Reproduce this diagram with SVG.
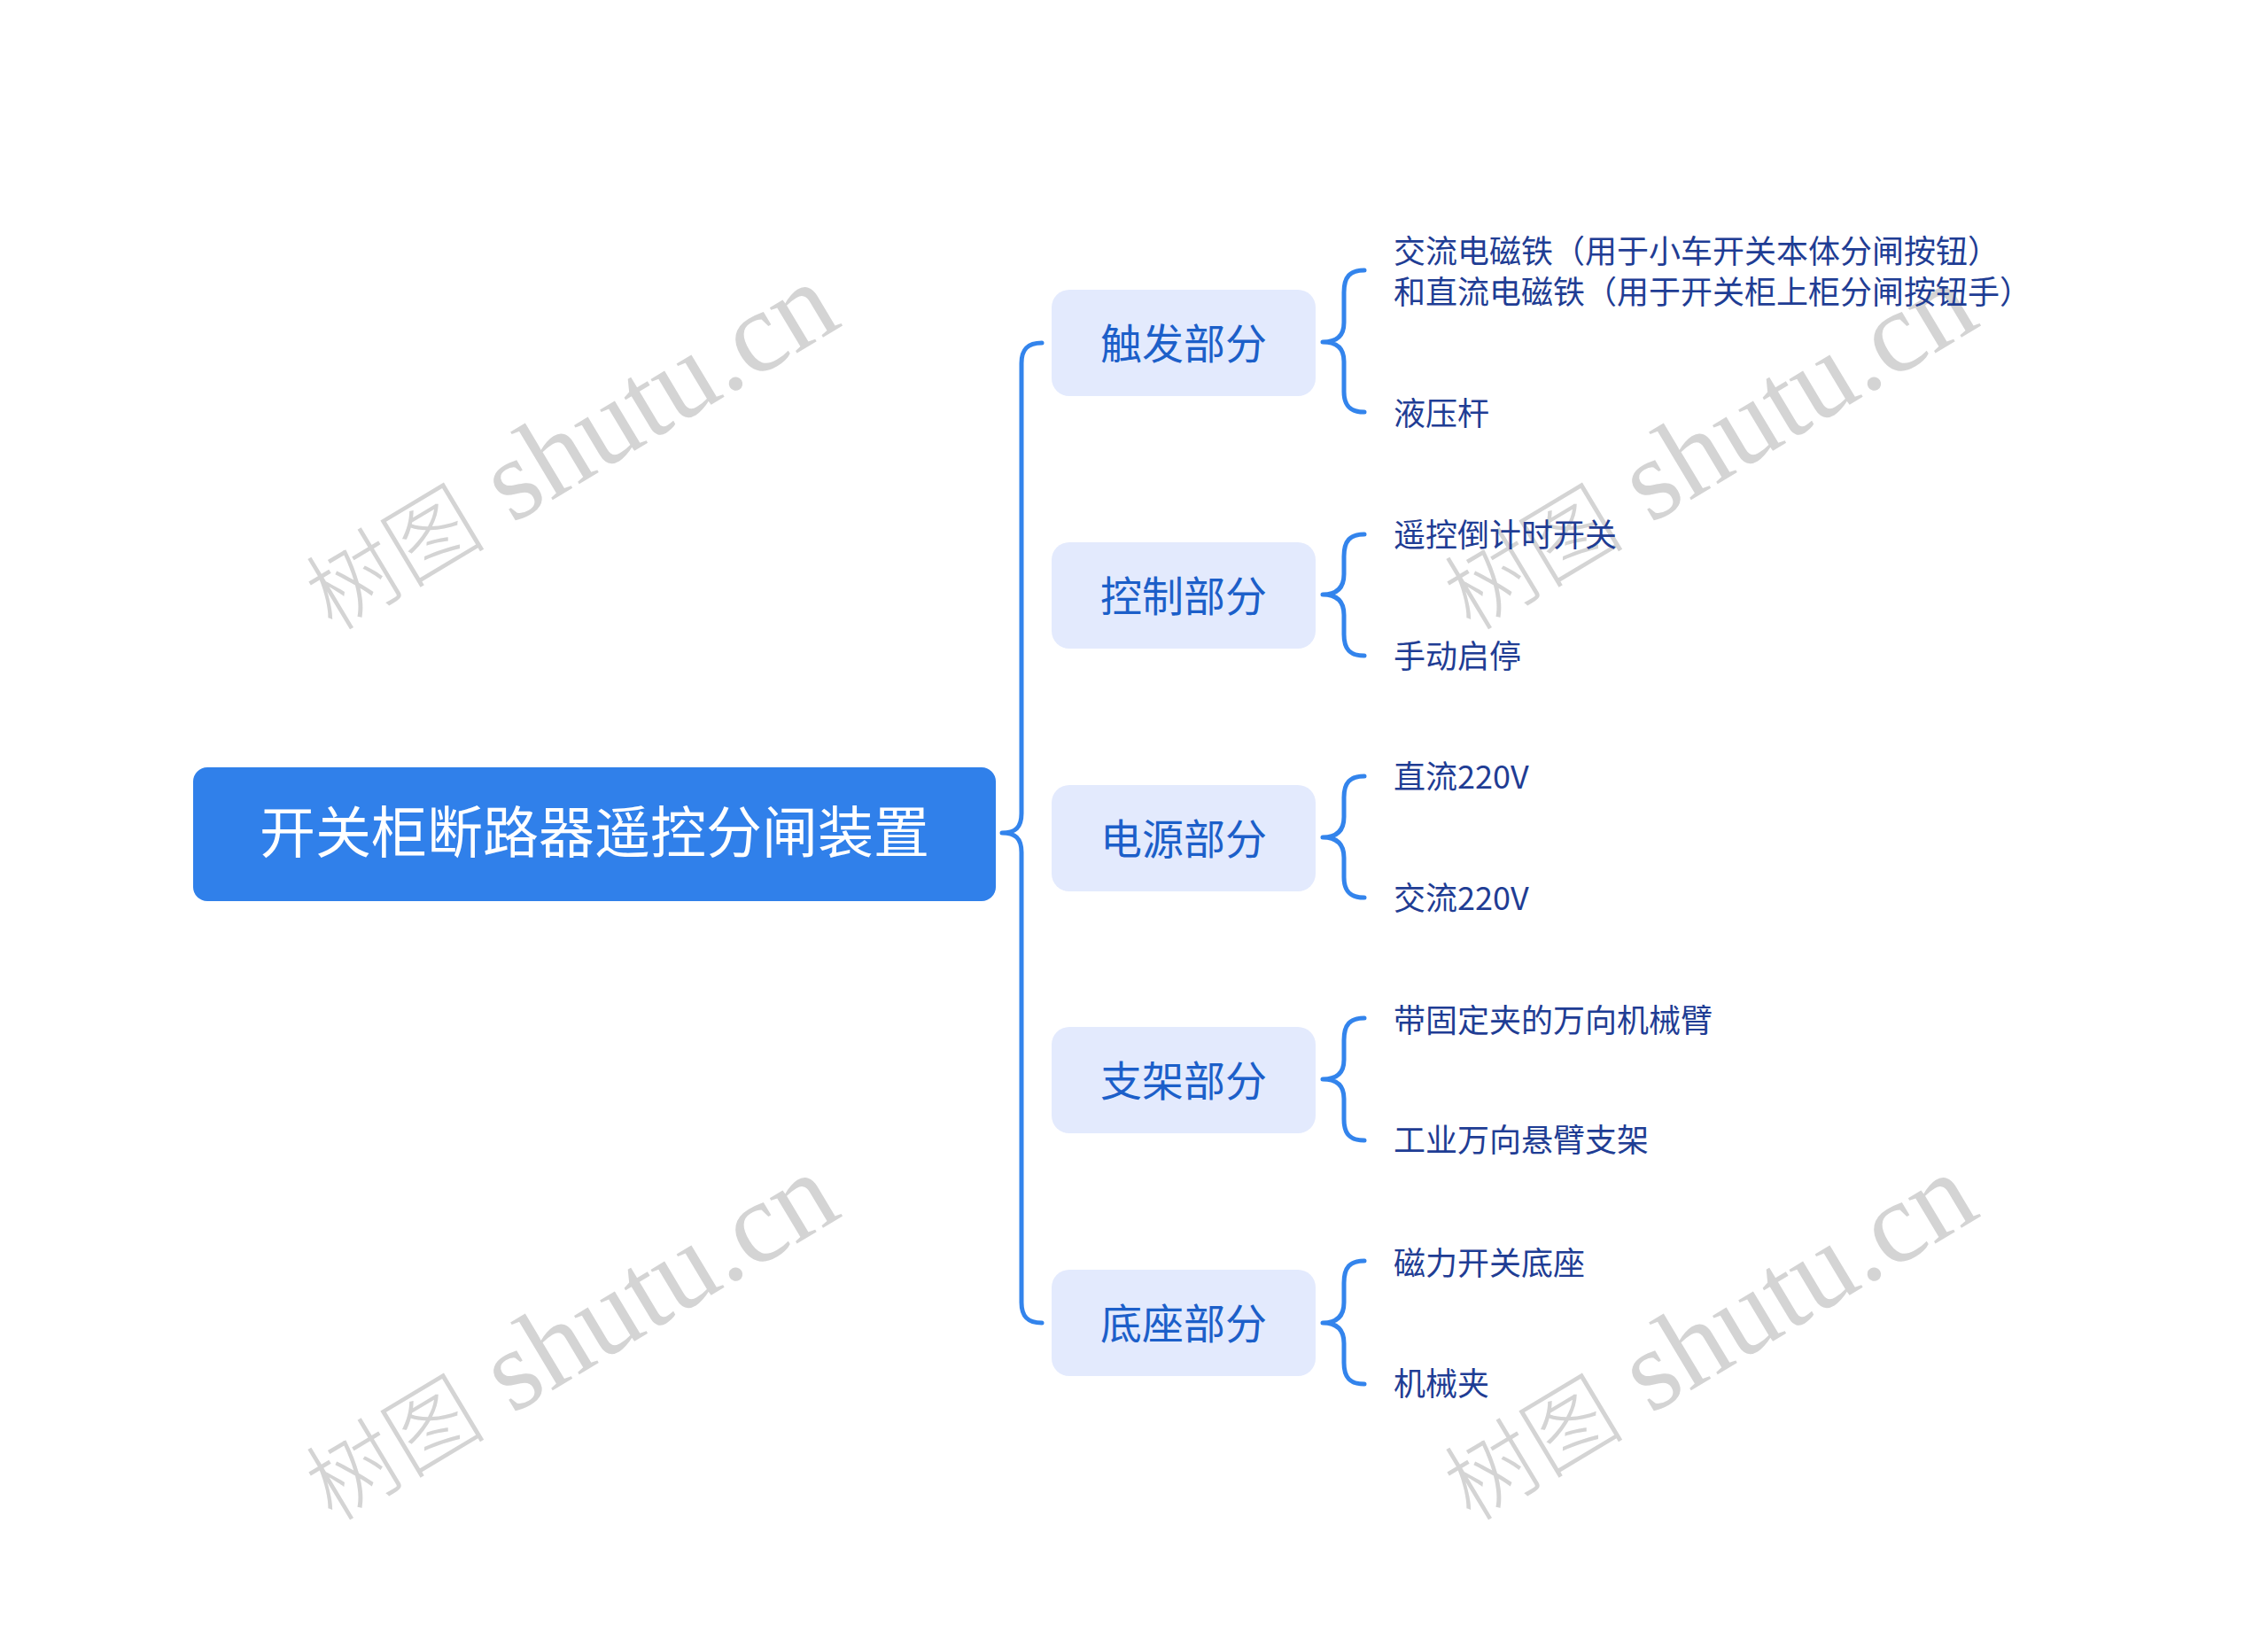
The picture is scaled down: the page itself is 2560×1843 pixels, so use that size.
<svg xmlns="http://www.w3.org/2000/svg" width="2560" height="1843" viewBox="0 0 2560 1843">
<style>
.wm{font-family:"Liberation Serif","Noto Sans CJK SC",serif;font-size:130px;fill:#d4d4d4;text-anchor:middle}
.wm .cj{font-size:102px;font-weight:300}
.root-t{font-family:"Noto Sans CJK SC","Noto Sans",sans-serif;font-size:63px;fill:#ffffff;text-anchor:middle}
.sub{fill:#e3eafd}
.sub-t{font-family:"Noto Sans CJK SC","Noto Sans",sans-serif;font-size:47px;fill:#1c5fc9;text-anchor:middle}
.leaf{font-family:"Noto Sans CJK SC","Noto Sans",sans-serif;font-size:36px;fill:#1f3d94}
.con{fill:none;stroke:#3384ec;stroke-width:5;stroke-linecap:round;stroke-linejoin:round}
</style>
<rect width="2560" height="1843" fill="#ffffff"/>
<g id="watermarks">
<text class="wm" transform="translate(664 540) rotate(-31)"><tspan class="cj">树图</tspan> shutu.cn</text>
<text class="wm" transform="translate(1949 540) rotate(-31)"><tspan class="cj">树图</tspan> shutu.cn</text>
<text class="wm" transform="translate(664 1545) rotate(-31)"><tspan class="cj">树图</tspan> shutu.cn</text>
<text class="wm" transform="translate(1949 1545) rotate(-31)"><tspan class="cj">树图</tspan> shutu.cn</text>
</g>
<g id="connectors">
<path class="con" d="M1176 387 C1160 387 1153 394 1153 410 L1153 918 C1153 934 1146 940 1131 940 C1146 940 1153 946 1153 962 L1153 1470 C1153 1486 1160 1493 1176 1493"/>
<path class="con" d="M1540 305 C1524 305 1517 312 1517 330 L1517 364 C1517 380 1508 386 1493 386 C1508 386 1517 392 1517 408 L1517 442 C1517 458 1524 465 1540 465"/>
<path class="con" d="M1540 603 C1524 603 1517 610 1517 628 L1517 648 C1517 664 1508 671 1493 671 C1508 671 1517 678 1517 694 L1517 716 C1517 733 1524 740 1540 740"/>
<path class="con" d="M1540 876 C1524 876 1517 883 1517 900 L1517 922 C1517 938 1508 945 1493 945 C1508 945 1517 952 1517 968 L1517 990 C1517 1006 1524 1013 1540 1013"/>
<path class="con" d="M1540 1149 C1524 1149 1517 1156 1517 1174 L1517 1196 C1517 1212 1508 1218 1493 1218 C1508 1218 1517 1224 1517 1240 L1517 1263 C1517 1280 1524 1287 1540 1287"/>
<path class="con" d="M1540 1423 C1524 1423 1517 1430 1517 1448 L1517 1470 C1517 1486 1508 1493 1493 1493 C1508 1493 1517 1500 1517 1516 L1517 1538 C1517 1555 1524 1562 1540 1562"/>
</g>
<g id="root">
<rect x="218" y="866" width="906" height="151" rx="16" fill="#3080ea"/>
<text class="root-t" x="671" y="962">开关柜断路器遥控分闸装置</text>
</g>
<g id="n1">
<rect class="sub" x="1187" y="327" width="298" height="120" rx="20"/>
<text class="sub-t" x="1336" y="405">触发部分</text>
</g>
<g id="n2">
<rect class="sub" x="1187" y="612" width="298" height="120" rx="20"/>
<text class="sub-t" x="1336" y="690">控制部分</text>
</g>
<g id="n3">
<rect class="sub" x="1187" y="886" width="298" height="120" rx="20"/>
<text class="sub-t" x="1336" y="964">电源部分</text>
</g>
<g id="n4">
<rect class="sub" x="1187" y="1159" width="298" height="120" rx="20"/>
<text class="sub-t" x="1336" y="1237">支架部分</text>
</g>
<g id="n5">
<rect class="sub" x="1187" y="1433" width="298" height="120" rx="20"/>
<text class="sub-t" x="1336" y="1511">底座部分</text>
</g>
<g id="l1a"><text class="leaf" x="1573" y="297">交流电磁铁（用于小车开关本体分闸按钮）</text><text class="leaf" x="1573" y="343">和直流电磁铁（用于开关柜上柜分闸按钮手）</text></g>
<g id="l1b"><text class="leaf" x="1573" y="480">液压杆</text></g>
<g id="l2a"><text class="leaf" x="1573" y="617">遥控倒计时开关</text></g>
<g id="l2b"><text class="leaf" x="1573" y="754">手动启停</text></g>
<g id="l3a"><text class="leaf" x="1573" y="890">直流220V</text></g>
<g id="l3b"><text class="leaf" x="1573" y="1027">交流220V</text></g>
<g id="l4a"><text class="leaf" x="1573" y="1165">带固定夹的万向机械臂</text></g>
<g id="l4b"><text class="leaf" x="1573" y="1300">工业万向悬臂支架</text></g>
<g id="l5a"><text class="leaf" x="1573" y="1439">磁力开关底座</text></g>
<g id="l5b"><text class="leaf" x="1573" y="1575">机械夹</text></g>
</svg>
